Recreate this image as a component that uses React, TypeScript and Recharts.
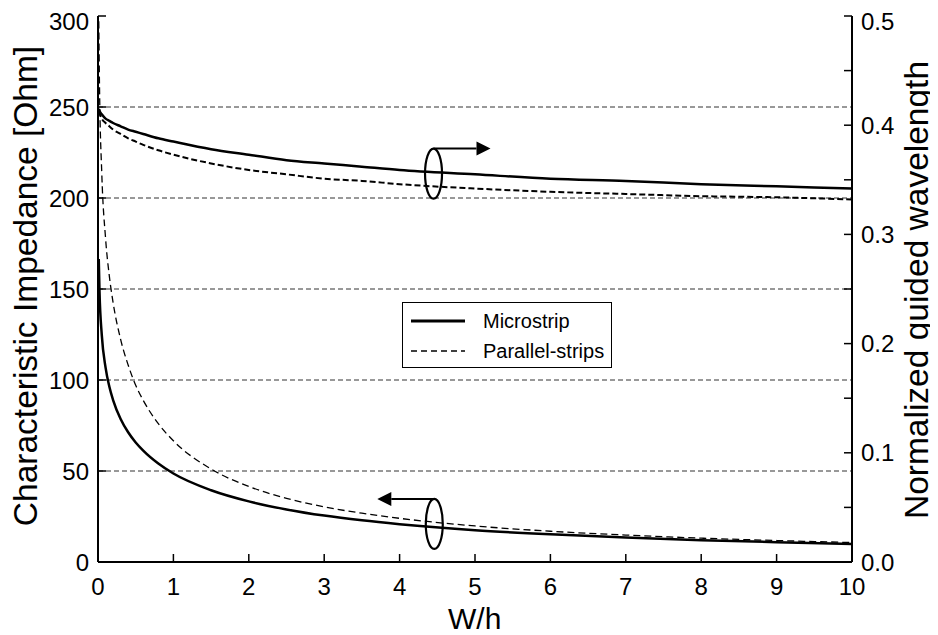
import React from "react";
import {
  LineChart,
  Line,
  XAxis,
  YAxis,
  CartesianGrid,
  Legend,
  Label,
  ReferenceDot,
} from "recharts";

// W/h values shared by both line types
const ratios = [0.01, 0.02, 0.05, 0.1, 0.15, 0.2, 0.3, 0.4, 0.5, 0.6, 0.8, 1, 1.5, 2, 2.5, 3, 3.5, 4, 5, 6, 7, 8, 9, 10];

// characteristic impedance [Ohm], left axis
const zMicrostrip = [166.5, 148.6, 124.8, 106.9, 96.4, 89.0, 78.6, 71.3, 65.7, 61.2, 54.1, 48.6, 39.4, 33.3, 28.9, 25.5, 22.9, 20.8, 17.5, 15.2, 13.4, 12.0, 10.9, 9.9];
const zParallel = [297.1, 261.2, 213.7, 178.0, 157.2, 142.6, 122.3, 108.2, 97.1, 88.8, 76.0, 66.6, 51.1, 41.5, 35.0, 30.3, 26.8, 24.0, 19.8, 16.9, 14.8, 13.1, 11.8, 10.7];

// normalized guided wavelength, right axis
const wlMicrostrip = [0.415, 0.413, 0.41, 0.406, 0.404, 0.402, 0.399, 0.396, 0.394, 0.392, 0.388, 0.385, 0.378, 0.373, 0.368, 0.365, 0.362, 0.359, 0.355, 0.351, 0.349, 0.346, 0.344, 0.342];
const wlParallel = [0.413, 0.411, 0.406, 0.402, 0.399, 0.396, 0.392, 0.388, 0.385, 0.382, 0.377, 0.373, 0.365, 0.359, 0.355, 0.351, 0.349, 0.346, 0.342, 0.339, 0.337, 0.335, 0.334, 0.332];

const xTicks = [0, 1, 2, 3, 4, 5, 6, 7, 8, 9, 10];
const leftTicks = [0, 50, 100, 150, 200, 250, 300];
const gridValues = [50, 100, 150, 200, 250];
const rightTicks = [0, 0.05, 0.1, 0.15, 0.2, 0.25, 0.3, 0.35, 0.4, 0.45, 0.5];

const data = ratios.map((x, i) => ({
  x,
  zMs: zMicrostrip[i],
  zPs: zParallel[i],
  wMs: wlMicrostrip[i],
  wPs: wlParallel[i],
}));

const FONT = "'Liberation Sans', Arial, sans-serif";
const tickStyle = { fill: "#000", fontSize: 24, fontFamily: FONT };
const axisLine = { stroke: "#000", strokeWidth: 2 };
const tickLine = { stroke: "#000", strokeWidth: 1.5 };

// ellipse with an arrow leaving its top, pointing left or right
const axisMarker = (dir: number) => (props: any) => {
  const { cx, cy } = props;
  const rx = 8.5;
  const ry = 25;
  const top = cy - ry;
  const tip = cx + dir * 57;
  const base = tip - dir * 14;
  return (
    <g>
      <ellipse cx={cx} cy={cy} rx={rx} ry={ry} fill="none" stroke="#000" strokeWidth={2.2} />
      <line x1={cx} y1={top} x2={base} y2={top} stroke="#000" strokeWidth={2} />
      <polygon points={`${base},${top - 7} ${base},${top + 7} ${tip},${top}`} fill="#000" />
    </g>
  );
};

const LegendBox = () => (
  <div
    style={{
      width: 210,
      height: 66,
      boxSizing: "border-box",
      border: "1.5px solid #000",
      background: "#fff",
      fontFamily: FONT,
      fontSize: 20,
      color: "#000",
      paddingTop: 3,
    }}
  >
    {[
      { name: "Microstrip", w: 3, dash: undefined },
      { name: "Parallel-strips", w: 1.3, dash: "6 4" },
    ].map((r) => (
      <div key={r.name} style={{ display: "flex", alignItems: "center", height: 30 }}>
        <svg width={80} height={30} style={{ display: "block" }}>
          <line x1={8} y1={15} x2={62} y2={15} stroke="#000" strokeWidth={r.w} strokeDasharray={r.dash} />
        </svg>
        <span>{r.name}</span>
      </div>
    ))}
  </div>
);

export default function App() {
  return (
    <LineChart width={930} height={627} data={data} margin={{ top: 8, right: 0, bottom: 0, left: 0 }}>
      <CartesianGrid
        yAxisId="left"
        vertical={false}
        horizontalValues={gridValues}
        stroke="#333"
        strokeDasharray="5 3"
        strokeWidth={1}
      />
      <XAxis
        dataKey="x"
        type="number"
        domain={[0, 10]}
        ticks={xTicks}
        height={73}
        tick={tickStyle}
        tickSize={-8}
        tickMargin={24}
        axisLine={axisLine}
        tickLine={tickLine}
        allowDataOverflow
      >
        <Label
          content={() => (
            <text x={466.7} y={620.5} textAnchor="middle" fontSize={30} fontFamily={FONT} fill="#000">
              W/h
            </text>
          )}
        />
      </XAxis>
      <XAxis
        xAxisId="top"
        orientation="top"
        dataKey="x"
        type="number"
        domain={[0, 10]}
        ticks={xTicks}
        height={0}
        tickSize={-8}
        tickFormatter={() => ""}
        axisLine={axisLine}
        tickLine={tickLine}
        allowDataOverflow
      />
      <YAxis
        yAxisId="left"
        type="number"
        domain={[0, 300]}
        ticks={leftTicks}
        width={90}
        tick={tickStyle}
        tickSize={-8}
        tickMargin={17}
        axisLine={axisLine}
        tickLine={tickLine}
        allowDataOverflow
      >
        <Label
          content={() => (
            <text
              x={29}
              y={278}
              transform="rotate(-90 29 278)"
              textAnchor="middle"
              fontSize={33.5}
              fontFamily={FONT}
              fill="#000"
            >
              Characteristic Impedance [Ohm]
            </text>
          )}
        />
      </YAxis>
      <YAxis
        yAxisId="right"
        orientation="right"
        type="number"
        domain={[0, 0.5]}
        ticks={rightTicks}
        width={86}
        tick={tickStyle}
        tickSize={-8}
        tickMargin={17}
        tickFormatter={(v: number) => (Math.round(v * 100) % 10 === 0 ? v.toFixed(1) : "")}
        axisLine={axisLine}
        tickLine={tickLine}
        allowDataOverflow
      >
        <Label
          content={() => (
            <text
              x={920}
              y={282}
              transform="rotate(-90 920 282)"
              textAnchor="middle"
              fontSize={33.5}
              fontFamily={FONT}
              fill="#000"
            >
              Normalized guided wavelength
            </text>
          )}
        />
      </YAxis>

      <Line yAxisId="left" dataKey="zPs" type="monotone" stroke="#000" strokeWidth={1.3} strokeDasharray="7 4" dot={false} activeDot={false} isAnimationActive={false} />
      <Line yAxisId="left" xAxisId="top" dataKey="zMs" type="monotone" stroke="#000" strokeWidth={2.5} dot={false} activeDot={false} isAnimationActive={false} />
      <Line yAxisId="right" dataKey="wPs" type="monotone" stroke="#000" strokeWidth={2} strokeDasharray="6 3" dot={false} activeDot={false} isAnimationActive={false} />
      <Line yAxisId="right" dataKey="wMs" type="monotone" stroke="#000" strokeWidth={2.5} dot={false} activeDot={false} isAnimationActive={false} />

      <ReferenceDot yAxisId="left" x={4.45} y={213.4} r={1} shape={axisMarker(1)} />
      <ReferenceDot yAxisId="left" x={4.46} y={20.9} r={1} shape={axisMarker(-1)} />

      <Legend
        layout="vertical"
        align="center"
        verticalAlign="middle"
        wrapperStyle={{ left: 394, top: 294, width: 210, height: 66 }}
        content={() => <LegendBox />}
      />
    </LineChart>
  );
}
